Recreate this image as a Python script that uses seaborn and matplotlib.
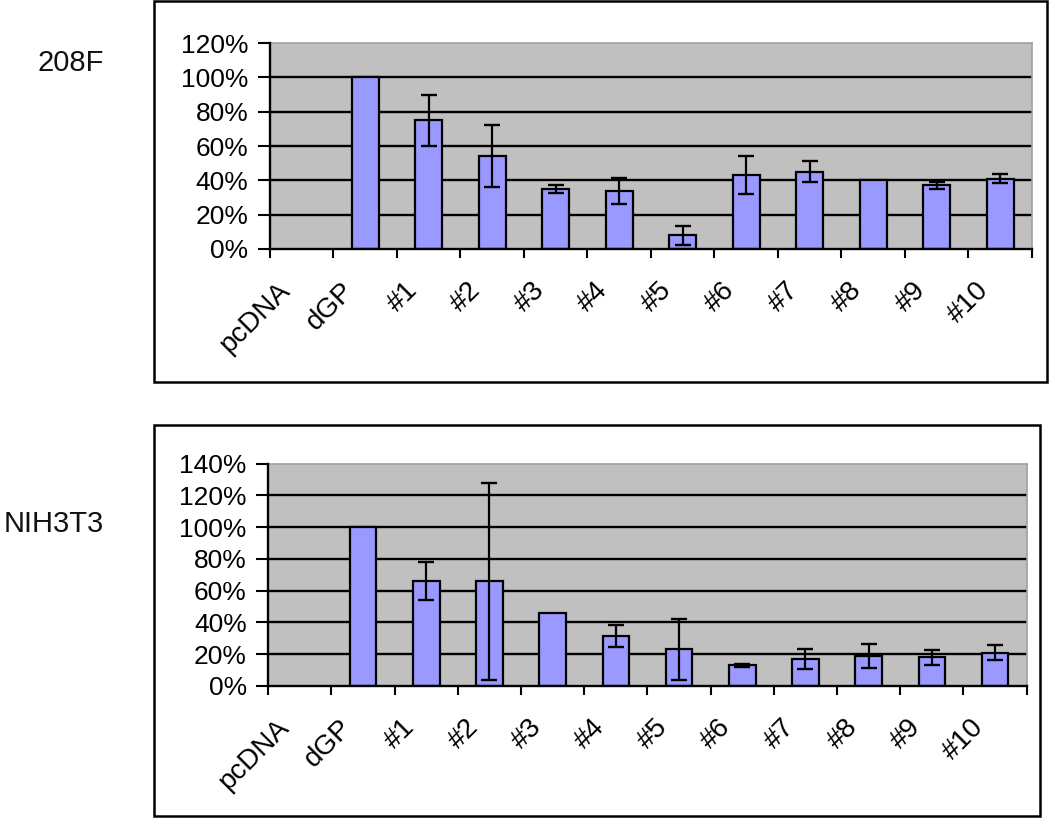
import numpy as np
import pandas as pd
import seaborn as sns
import matplotlib.pyplot as plt
from matplotlib.patches import Rectangle
from matplotlib.ticker import PercentFormatter
from matplotlib.transforms import ScaledTranslation

categories = ['pcDNA', 'dGP', '#1', '#2', '#3', '#4', '#5', '#6', '#7', '#8', '#9', '#10']

# percent of dGP
f208_mean = [np.nan, 100, 75, 54, 35, 34, 8, 43, 45, 40, 37, 41]
f208_err = [np.nan, np.nan, 15, 18, 2.5, 7.5, 5.5, 11, 6, np.nan, 2.3, 2.5]

nih_mean = [np.nan, 100, 66, 66, 46, 31.5, 23, 13, 17, 19, 18, 21]
nih_err = [np.nan, np.nan, 12, 62, np.nan, 7, 19, 1, 6.5, 7.5, 4.8, 4.8]

panel_names = ['208F', 'NIH3T3']
panel_ymax = [120, 140]

BAR = '#9999FF'
BG = '#C0C0C0'

plt.rcParams['font.family'] = ['Liberation Sans', 'DejaVu Sans']

fig = plt.figure(figsize=(10.5, 8.18), dpi=100)

# axes rectangles (figure fractions) and outer frames
ax_rects = [[0.2571, 0.6956, 0.7257, 0.2518], [0.2555, 0.1614, 0.7223, 0.2718]]
frames = [[0.1467, 0.533, 0.8505, 0.4658], [0.1467, 0.0024, 0.8438, 0.478]]
name_y = [1 - 63 / 818, 1 - 524 / 818]

for i, (means, errs) in enumerate([(f208_mean, f208_err), (nih_mean, nih_err)]):
    fig.patches.append(Rectangle(frames[i][:2], frames[i][2], frames[i][3],
                                 transform=fig.transFigure, fill=False,
                                 edgecolor='black', linewidth=1.8))
    fig.text(104 / 1050, name_y[i], panel_names[i], ha='right', va='center',
             fontsize=21, color='#111111')

    ax = fig.add_axes(ax_rects[i])
    ax.set_facecolor(BG)
    df = pd.DataFrame({'cat': categories, 'val': means, 'err': errs})

    ymax = panel_ymax[i]
    for yv in range(20, ymax, 20):
        ax.axhline(yv, color='black', linewidth=1.7, zorder=1)

    sns.barplot(data=df, x='cat', y='val', order=categories, color=BAR,
                saturation=1, width=0.42, edgecolor='black', linewidth=1.6,
                errorbar=None, ax=ax, zorder=2)

    has_err = df['err'].notna()
    xpos = np.arange(len(categories))[has_err.values]
    ax.errorbar(xpos, df.loc[has_err, 'val'], yerr=df.loc[has_err, 'err'],
                fmt='none', ecolor='black', elinewidth=1.6, capsize=6,
                capthick=1.7, zorder=3)

    ax.set_xlim(-0.5, len(categories) - 0.5)
    ax.set_ylim(0, ymax)
    ax.set_xlabel('')
    ax.set_ylabel('')

    ax.set_yticks(range(0, ymax + 1, 20))
    ax.yaxis.set_major_formatter(PercentFormatter(100, decimals=0))
    ax.tick_params(axis='y', direction='out', length=8.5, width=1.5,
                   labelsize=19, pad=7, colors='black')

    ax.set_xticks(np.arange(len(categories)))
    ax.set_xticklabels(categories)
    ax.set_xticks(np.arange(len(categories) + 1) - 0.5, minor=True)
    ax.tick_params(axis='x', which='major', length=0, labelsize=20, pad=27)
    ax.tick_params(axis='x', which='minor', direction='out', length=6.5, width=1.5)
    shift = ScaledTranslation(-11 / 72, 0, fig.dpi_scale_trans)
    for lab in ax.get_xticklabels():
        lab.set_rotation(45)
        lab.set_ha('right')
        lab.set_va('center')
        lab.set_rotation_mode('anchor')
        lab.set_transform(lab.get_transform() + shift)

    for side in ['left', 'bottom']:
        ax.spines[side].set_color('black')
        ax.spines[side].set_linewidth(1.7)
        ax.spines[side].set_zorder(4)
    for side in ['top', 'right']:
        ax.spines[side].set_color('#A0A0A0')
        ax.spines[side].set_linewidth(1.2)

fig.savefig('out.png', dpi=100)
